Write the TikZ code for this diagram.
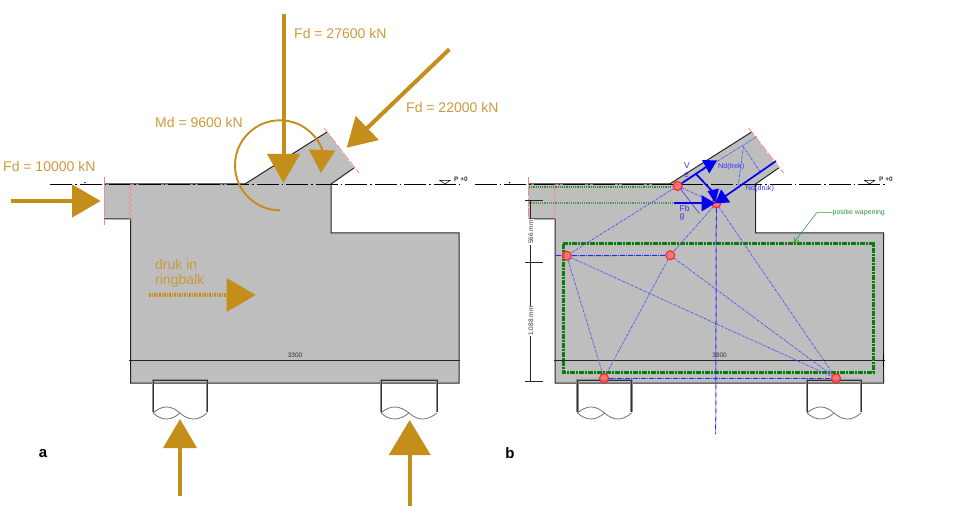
\documentclass[tikz,border=0pt]{standalone}
\usepackage{fontspec}
\setmainfont{Liberation Sans}
\usetikzlibrary{arrows.meta, decorations.pathmorphing}

\definecolor{goud}{HTML}{C58E1A}
\definecolor{goudtekst}{HTML}{CC9A3C}
\definecolor{beton}{HTML}{BEBEBE}
\definecolor{rood}{HTML}{F08A8A}
\definecolor{wapening}{HTML}{0B7D0B}
\definecolor{staaf}{HTML}{5252F0}

\begin{document}
\begin{tikzpicture}[
    x=1pt,
    y=-1pt,
    edgeline/.style={black!85, line width=1pt},
    axisline/.style={black, line width=.7pt, dash pattern=on 22pt off 3pt on 1.5pt off 3pt},
    cut/.style={rood, line width=.8pt, dash pattern=on 9pt off 1.5pt},
    joint/.style={rood, line width=.5pt, decorate, decoration={zigzag, segment length=5pt, amplitude=1.2pt}},
    maat/.style={black!85, line width=.6pt},
    small/.style={font=\fontsize{6.5}{7}\selectfont, inner sep=0pt, text=black!80},
    force/.style 2 args={goud, line width=4pt, -{Triangle[length=#1pt, width=#2pt]}},
    flabel/.style={font=\fontsize{14}{17}\selectfont, text=goudtekst, inner sep=0pt, anchor=west, align=left},
    tag/.style={font=\fontsize{15}{15}\selectfont\bfseries, inner sep=0pt},
    strut/.style={staaf, line width=.8pt, dash pattern=on 2pt off 1pt on .7pt off 1pt},
    tie/.style={blue!85!white, line width=1pt, dash pattern=on 5pt off 1pt on 1pt off 1pt},
    nd/.style={circle, draw=red!85, fill=red!60, fill opacity=.8, line width=1.1pt, minimum size=9pt, inner sep=0pt},
    bforce/.style={blue!95!black, line width=1.7pt},
    blabel/.style={font=\fontsize{8.5}{9}\selectfont, text=blue!80!white, inner sep=0pt, anchor=west},
    green label/.style={font=\fontsize{7}{8}\selectfont, text=wapening!85, inner sep=0pt, anchor=west}]

    % body, axis and 3300 line of both panels
    \foreach \dx/\nm in {0/a,424.6/b} {
        \begin{scope}[xshift=\dx pt]
            \fill[beton] (104,184) -- (245,184) -- (327,132) -- (354,168) -- (331,184) -- (331,233)
                -- (459,233) -- (459,383) -- (130.5,383) -- (130.5,219) -- (104,219) -- cycle;
            \draw[edgeline] (104,219) -- (130.5,219) -- (130.5,383) -- (459,383) -- (459,233)
                -- (331,233) -- (331,184) -- (354,168);
            \draw[edgeline] (327,132) -- (245,184) -- (104,184);
            \draw[axisline] (50,184) -- (462,184);
            \draw[cut] (104,177) -- (104,225);
            \draw[cut] (324,128) -- (359,173);
            \draw[joint] (130,184) -- (130,221);
            \fill (85,182.6) circle (.8);
            \draw[black, line width=.5pt] (440,180.5) -- (450,180.5) -- (445,184) -- cycle;
            \draw[maat] (129,360) -- (460,360);
            \node[small] (Maat\nm) at (295,355) {3300};
        \end{scope}
    }

    % supports
    \foreach \sx/\sw in {153/54,381/56,577.5/54,807/54} {
        \begin{scope}[xshift=\sx pt]
            \draw[black!45, line width=2.2pt] (0,412) -- (0,380) -- (\sw,380) -- (\sw,412);
            \draw[black!80, line width=.4pt] (0,412) -- (0,380) -- (\sw,380) -- (\sw,412);
            \draw[black!55, line width=.8pt] (0,413) .. controls (9,405) and (18,405) .. (.5*\sw,413)
                .. controls (.5*\sw+9,421) and (.5*\sw+18,421) .. (\sw,413);
            \draw[black!55, line width=.8pt] (0,413) .. controls (9,421) and (18,421) .. (.5*\sw,413);
        \end{scope}
    }

    % level text, first one is cut off
    \begin{scope}
        \clip (450,170) rectangle (467,190);
        \node[small, anchor=west] (PeilA) at (454,179) {\textbf{P +0}};
    \end{scope}
    \node[small, anchor=west] (PeilB) at (879,179) {\textbf{P +0}};

    % panel a
    \coordinate (TopS) at (283.5,14);
    \coordinate (TopE) at (283.5,183);
    \coordinate (DiagS) at (449.3,49.3);
    \coordinate (DiagE) at (346.7,147.7);
    \coordinate (LeftS) at (11,201);
    \coordinate (LeftE) at (100.7,201);
    \coordinate (DrukS) at (149,295);
    \coordinate (DrukE) at (255.7,295);
    \coordinate (UpAS) at (180,496);
    \coordinate (UpAE) at (180,419);
    \coordinate (UpBS) at (409.7,506);
    \coordinate (UpBE) at (409.7,420);
    \coordinate (MdS) at (280,210.3);
    \coordinate (MdTip) at (321,173);

    \draw[force={29}{32}] (TopS) -- (TopE);
    \draw[force={28.5}{32.5}] (DiagS) -- (DiagE);
    \draw[force={28.5}{32}] (LeftS) -- (LeftE);
    \draw[force={29}{33}] (UpAS) -- (UpAE);
    \draw[force={35}{41}] (UpBS) -- (UpBE);
    \draw[force={29}{33}, line width=3.2pt, dash pattern=on 1.6pt off .9pt] (DrukS) -- (DrukE);
    \draw[goud, line width=1.9pt] (MdS) arc[start angle=90, end angle=339, radius=45] coordinate (MdE);
    \draw[force={23}{26}, line width=1.9pt] (MdE) -- (MdTip);

    \node[flabel] (FdTop)  at (294,33)  {Fd = 27600 kN};
    \node[flabel] (FdDiag) at (406,107) {Fd = 22000 kN};
    \node[flabel] (MdLab)  at (155,122) {Md = 9600 kN};
    \node[flabel] (FdLeft) at (3,166)   {Fd = 10000 kN};
    \node[flabel, font=\fontsize{14}{15.5}\selectfont] (DrukLab) at (155,273.5) {druk in\\ringbalk};
    \node[tag] (TagA) at (43,454) {a};
    \node[tag] (TagB) at (510,453) {b};

    % panel b: reinforcement and dimensions
    \draw[green!45!black!70!beton, line width=1.2pt, densely dotted] (529,187) -- (672,187);
    \draw[green!45!black!55!beton, line width=1.2pt, densely dotted] (529,203) -- (712,203);
    \draw[wapening, line width=3pt, dash pattern=on 5pt off 1pt on 2pt off 1pt]
        (563,243.7) rectangle (873.7,372);

    \coordinate (DimA) at (530,200);
    \coordinate (DimB) at (530,262.7);
    \coordinate (DimC) at (530,381.7);
    \draw[maat] (525,200) -- (543,200);
    \draw[maat] (525,262.7) -- (543,262.7);
    \draw[maat] (525,381.7) -- (543,381.7);
    \draw[maat] (DimA) -- (DimC);
    \node[small, rotate=90, fill=white, inner xsep=1pt, inner ysep=.5pt] (DimTop) at (531,232) {566 mm};
    \node[small, rotate=90, fill=white, inner xsep=1pt, inner ysep=.5pt] (DimBot) at (531,321) {1.088 mm};
    \draw[black, line width=1pt] (883.5,354) -- (883.5,367);

    \node[green label] (PosLab) at (832.5,212.7) {positie wapening};
    \coordinate (PosA) at (816.7,212.7);
    \coordinate (PosB) at (793.3,243.3);
    \draw[wapening!80, line width=.6pt, -{Straight Barb[length=5pt, width=5pt]}] (PosLab.west) -- (PosA) -- (PosB);

    % panel b: strut and tie model
    \node[nd] (Top)     at (677.7,186)   {};
    \node[nd] (Mid)     at (716.3,203.3) {};
    \node[nd] (Left)    at (566.7,255.7) {};
    \node[nd] (Centre)  at (670.3,255.3) {};
    \node[nd] (SupA)    at (604,378.3)   {};
    \node[nd] (SupB)    at (836,378.3)   {};
    \coordinate (StrutEnd) at (756.7,136.7);
    \coordinate (StrutMid) at (743.3,146.7);
    \coordinate (StrutLow) at (760,171.7);
    \coordinate (StrutAxis) at (738.3,185);
    \coordinate (TieLeft) at (556,255.7);
    \coordinate (AxisEnd) at (715.7,434);

    \path[strut]
    (Top)       edge (Left)
                edge (Mid)
                edge (StrutEnd)
    (Mid)       edge (Centre)
                edge (SupB)
    (Left)      edge (SupB)
                edge (SupA)
    (Centre)    edge (SupA)
                edge (SupB)
    (StrutMid)  edge (StrutLow)
                edge (StrutAxis);
    \path[tie]
    (TieLeft)   edge (Left)
    (Left)      edge (Centre)
    (SupA)      edge (SupB)
    (Mid)       edge (AxisEnd);

    % panel b: forces
    \coordinate (DrukS2) at (776,161);
    \coordinate (DrukE2) at (715,203.3);
    \coordinate (FbS) at (674,203.3);
    \coordinate (FbE) at (715,203.3);
    \coordinate (TrekE) at (706,167);
    \coordinate (VerS) at (696,174);
    \coordinate (VerE) at (712,191);
    \coordinate (ThinS) at (680,188.3);
    \coordinate (ThinE) at (699.3,213.3);

    \draw[staaf, line width=.8pt] (ThinS) -- (ThinE);
    \draw[bforce] (Top) -- (TrekE);
    \draw[bforce] (VerS) -- (VerE);
    \draw[bforce, -{Triangle[length=13pt, width=15.5pt]}] (DrukS2) -- (DrukE2);
    \draw[bforce, -{Triangle[length=13.5pt, width=16pt]}] (FbS) -- (FbE);
    \fill[blue!95!black] (702,160) -- (717,160.5) -- (709.3,173.5) -- cycle;
    \fill[blue!95!black] (707.5,191) -- (719,188.5) -- (715,203) -- cycle;

    \node[blabel] (Vlab)  at (684,166)    {V};
    \node[blabel] (Elab)  at (684,175)    {e};
    \node[blabel, font=\fontsize{7.2}{8}\selectfont] (Trek) at (718,166.7) {Nd(trek)};
    \node[blabel, font=\fontsize{7.2}{8}\selectfont] (Druk) at (745.7,188.3) {Nd(druk)};
    \node[blabel] (Fblab) at (679.5,208.3) {Fb};
    \node[blabel] (Glab)  at (679.5,217)  {g};

    \useasboundingbox (0,0) rectangle (960,529);
\end{tikzpicture}
\end{document}
